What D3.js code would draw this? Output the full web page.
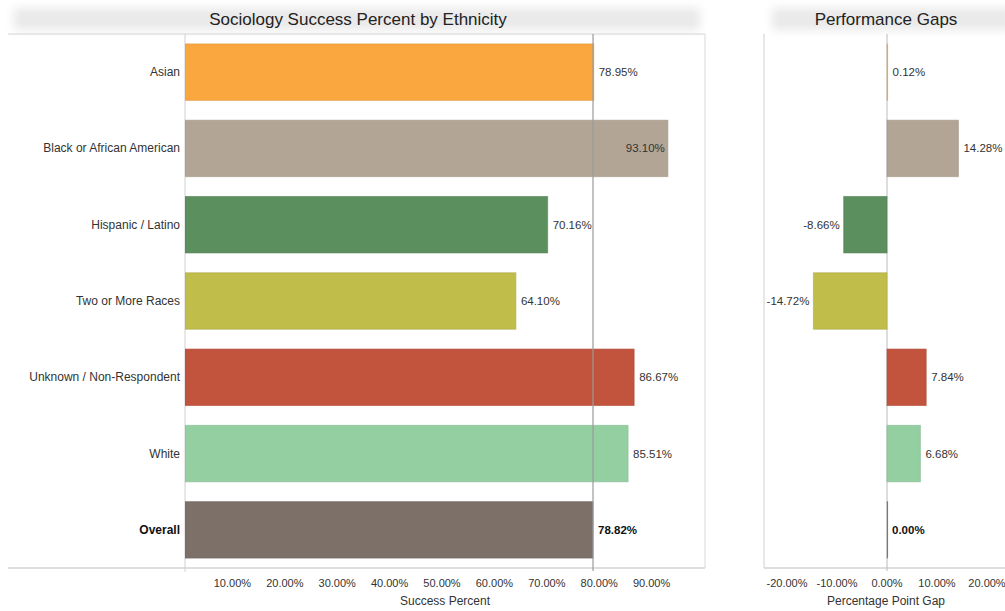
<!DOCTYPE html>
<html>
<head>
<meta charset="utf-8">
<script src="https://cdn.jsdelivr.net/npm/d3@7"></script>
<style>
    body { margin: 0; background: #fff; }
    svg text { font-family: "Liberation Sans", Arial, sans-serif; fill: #333; }
</style>
</head>
<body>
<div id="chart"></div>
<script>
// data
const categories = ['Asian', 'Black or African American', 'Hispanic / Latino', 'Two or More Races',
    'Unknown / Non-Respondent', 'White', 'Overall'];
const successPct = [78.95, 93.10, 70.16, 64.10, 86.67, 85.51, 78.82];
const gapPct = [0.12, 14.28, -8.66, -14.72, 7.84, 6.68, 0.00];
const barColors = ['#fba73f', '#b2a595', '#5b8f5e', '#c1bd4b', '#c2543e', '#93cfa1', '#7d7069'];
const successTicks = [10, 20, 30, 40, 50, 60, 70, 80, 90];
const gapTicks = [-20, -10, 0, 10, 20];
const overallPct = 78.82;

// layout
const W = 1005, H = 611;
const paneTop = 34, paneBottom = 568;
const left = {l: 185, r: 705};
const right = {l: 764, r: 1005};

const svg = d3.select('#chart').append('svg')
    .attr('width', W)
    .attr('height', H);

// soft header bands
const defs = svg.append('defs');
defs.append('filter').attr('id', 'soft')
    .attr('x', -0.1).attr('y', -0.5).attr('width', 1.2).attr('height', 2)
    .append('feGaussianBlur').attr('stdDeviation', 5);
defs.append('clipPath').attr('id', 'clipL')
    .append('rect').attr('x', left.l).attr('y', paneTop).attr('width', left.r - left.l).attr('height', paneBottom - paneTop);
defs.append('clipPath').attr('id', 'clipR')
    .append('rect').attr('x', right.l).attr('y', paneTop).attr('width', right.r - right.l).attr('height', paneBottom - paneTop);

svg.append('rect').attr('x', 14).attr('y', 8).attr('width', 686).attr('height', 22)
    .attr('fill', '#e9e9e9').attr('filter', 'url(#soft)');
svg.append('rect').attr('x', 772).attr('y', 8).attr('width', 240).attr('height', 22)
    .attr('fill', '#e9e9e9').attr('filter', 'url(#soft)');

svg.append('text').attr('x', 358).attr('y', 25).attr('text-anchor', 'middle')
    .style('font-size', '17px').style('fill', '#222').text('Sociology Success Percent by Ethnicity');
svg.append('text').attr('x', 886).attr('y', 25).attr('text-anchor', 'middle')
    .style('font-size', '17px').style('fill', '#222').text('Performance Gaps');

// scales
const scaleY = d3.scaleBand()
    .domain(categories)
    .range([paneTop, paneBottom])
    .paddingInner(0.26)
    .paddingOuter(0.13);
const scaleX = d3.scaleLinear().domain([0, 100]).range([180, 704]);
const scaleG = d3.scaleLinear().domain([-20, 20]).range([787, 987]);

const rows = categories.map((c, i) => ({cat: c, v: successPct[i], g: gapPct[i], color: barColors[i]}));

// frame lines
svg.append('line').attr('x1', 8).attr('x2', left.r).attr('y1', paneTop).attr('y2', paneTop)
    .attr('stroke', '#d4d4d4');
svg.append('line').attr('x1', 8).attr('x2', left.r).attr('y1', paneBottom).attr('y2', paneBottom)
    .attr('stroke', '#bdbdbd');
svg.append('line').attr('x1', left.l).attr('x2', left.l).attr('y1', paneTop).attr('y2', paneBottom + 4)
    .attr('stroke', '#d0d0d0');
svg.append('line').attr('x1', left.r).attr('x2', left.r).attr('y1', paneTop).attr('y2', paneBottom)
    .attr('stroke', '#d8d8d8');
svg.append('line').attr('x1', right.l).attr('x2', right.r).attr('y1', paneBottom).attr('y2', paneBottom)
    .attr('stroke', '#bdbdbd');
svg.append('line').attr('x1', right.l).attr('x2', right.l).attr('y1', paneTop).attr('y2', paneBottom)
    .attr('stroke', '#d0d0d0');

// category labels
svg.append('g').selectAll('text')
    .data(rows)
    .join('text')
    .attr('x', 180)
    .attr('y', d => scaleY(d.cat) + scaleY.bandwidth() / 2 + 4)
    .attr('text-anchor', 'end')
    .style('font-size', '12px')
    .style('font-weight', d => d.cat === 'Overall' ? 'bold' : 'normal')
    .style('fill', d => d.cat === 'Overall' ? '#111' : '#333')
    .text(d => d.cat);

/* LEFT CHART */
const plotL = svg.append('g').attr('clip-path', 'url(#clipL)');
plotL.selectAll('rect')
    .data(rows)
    .join('rect')
    .attr('x', left.l)
    .attr('y', d => scaleY(d.cat))
    .attr('width', d => scaleX(d.v) - left.l)
    .attr('height', scaleY.bandwidth())
    .attr('fill', d => d.color)
    .attr('stroke', d => d3.color(d.color).darker(0.3))
    .attr('stroke-opacity', 0.6)
    .attr('stroke-width', 1);

// reference line at the overall value
svg.append('line')
    .attr('x1', scaleX(overallPct)).attr('x2', scaleX(overallPct))
    .attr('y1', paneTop).attr('y2', paneBottom + 3)
    .attr('stroke', '#9a9a9a').attr('stroke-width', 1.2);

svg.append('g').selectAll('text')
    .data(rows)
    .join('text')
    .attr('x', d => scaleX(d.v) + 44 > left.r ? scaleX(d.v) - 3 : scaleX(d.v) + 5)
    .attr('text-anchor', d => scaleX(d.v) + 44 > left.r ? 'end' : 'start')
    .attr('y', d => scaleY(d.cat) + scaleY.bandwidth() / 2 + 4)
    .style('font-size', '11.5px')
    .style('font-weight', d => d.cat === 'Overall' ? 'bold' : 'normal')
    .style('fill', d => d.cat === 'Overall' ? '#111' : '#333')
    .text(d => d.v.toFixed(2) + '%');

// x axis
const axisX = svg.append('g');
axisX.selectAll('text')
    .data(successTicks)
    .join('text')
    .attr('x', d => scaleX(d))
    .attr('y', 587)
    .attr('text-anchor', 'middle')
    .style('font-size', '11px')
    .text(d => d.toFixed(2) + '%');
svg.append('text').attr('x', 445).attr('y', 605).attr('text-anchor', 'middle')
    .style('font-size', '12px').text('Success Percent');

/* RIGHT CHART */
svg.append('line')
    .attr('x1', scaleG(0)).attr('x2', scaleG(0))
    .attr('y1', paneTop).attr('y2', paneBottom + 3)
    .attr('stroke', '#bbbbbb').attr('stroke-width', 1);

const plotR = svg.append('g').attr('clip-path', 'url(#clipR)');
plotR.selectAll('rect')
    .data(rows)
    .join('rect')
    .attr('x', d => Math.min(scaleG(0), scaleG(d.g)))
    .attr('y', d => scaleY(d.cat))
    .attr('width', d => Math.max(Math.abs(scaleG(d.g) - scaleG(0)), 0.8))
    .attr('height', scaleY.bandwidth())
    .attr('fill', d => d.color)
    .attr('stroke', d => d3.color(d.color).darker(0.3))
    .attr('stroke-opacity', 0.6)
    .attr('stroke-width', d => Math.abs(d.g) < 1 ? 0.6 : 1);

svg.append('g').selectAll('text')
    .data(rows)
    .join('text')
    .attr('x', d => d.g < 0 ? scaleG(d.g) - 4 : scaleG(d.g) + 5)
    .attr('text-anchor', d => d.g < 0 ? 'end' : 'start')
    .attr('y', d => scaleY(d.cat) + scaleY.bandwidth() / 2 + 4)
    .style('font-size', '11.5px')
    .style('font-weight', d => d.cat === 'Overall' ? 'bold' : 'normal')
    .style('fill', d => d.cat === 'Overall' ? '#111' : '#333')
    .text(d => d.g.toFixed(2) + '%');

svg.append('g').selectAll('text')
    .data(gapTicks)
    .join('text')
    .attr('x', d => scaleG(d))
    .attr('y', 587)
    .attr('text-anchor', 'middle')
    .style('font-size', '11px')
    .text(d => d.toFixed(2) + '%');
svg.append('text').attr('x', 886).attr('y', 605).attr('text-anchor', 'middle')
    .style('font-size', '12px').text('Percentage Point Gap');
</script>
</body>
</html>
